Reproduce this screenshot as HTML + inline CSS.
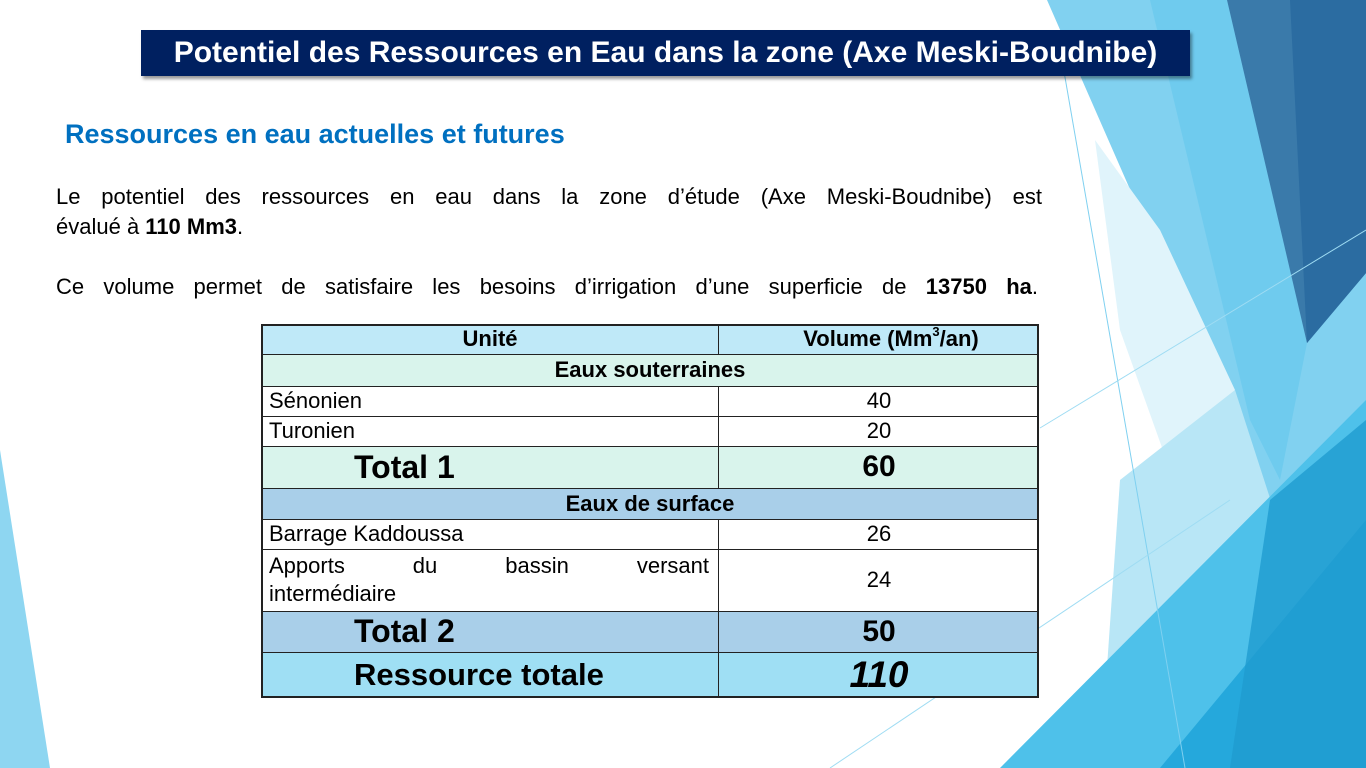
<!DOCTYPE html>
<html><head><meta charset="utf-8">
<style>
body{margin:0;width:1366px;height:768px;overflow:hidden;background:#fff;font-family:"Liberation Sans",sans-serif;position:relative}
.abs{position:absolute}
.c{position:absolute;box-sizing:border-box;display:flex;align-items:center;font-size:22px;color:#000;overflow:hidden;white-space:nowrap}
.line{position:absolute;background:#222}
.j{text-align:justify;text-align-last:justify;white-space:nowrap}
</style></head><body>
<svg class="abs" style="left:0;top:0" width="1366" height="768">
<polygon points="1047,0 1366,0 1366,768 1330,768 1310,600" fill="#81d1f0"/>
<polygon points="1150,0 1227,0 1307,343 1280,480 1250,420" fill="#6fcbee"/>
<polygon points="1095,140 1160,230 1235,390 1170,470 1120,330" fill="#e0f4fb"/>
<polygon points="1120,480 1235,390 1290,560 1180,768 1100,768" fill="#b8e6f6"/>
<polygon points="1227,0 1366,0 1366,273 1307,343" fill="#3a7aaa"/>
<polygon points="1290,0 1366,0 1366,273 1307,343" fill="#2b6ca1"/>
<polygon points="1000,768 1366,400 1366,768" fill="#4ec1ea"/>
<polygon points="1160,768 1366,520 1366,768" fill="#25a8dc"/>
<polygon points="1230,768 1270,500 1366,420 1366,768" fill="#1f9bd0" opacity="0.8"/>
<polygon points="0,450 50,768 0,768" fill="#8ed6f1"/>
<line x1="1062" y1="60" x2="1185" y2="768" stroke="#7fd0f0" stroke-width="1"/>
<line x1="1040" y1="428" x2="1366" y2="230" stroke="#9fdcf3" stroke-width="1"/>
<line x1="830" y1="768" x2="1230" y2="500" stroke="#9fdcf3" stroke-width="1"/>
</svg>
<div class="abs" style="left:141px;top:30px;width:1049px;height:46px;background:#002060;box-shadow:2px 3px 3px rgba(0,0,0,0.4);color:#fff;font-weight:bold;font-size:30px;display:flex;align-items:center;justify-content:center">Potentiel des Ressources en Eau dans la zone (Axe Meski-Boudnibe)</div>
<div class="abs" style="left:65px;top:119px;color:#0070c0;font-weight:bold;font-size:27px">Ressources en eau actuelles et futures</div>
<div class="abs j" style="left:56px;top:184px;width:986px;font-size:22px">Le potentiel des ressources en eau dans la zone d’étude (Axe Meski-Boudnibe) est</div>
<div class="abs" style="left:56px;top:214px;font-size:22px">évalué à <b>110 Mm3</b>.</div>
<div class="abs j" style="left:56px;top:274px;width:982px;font-size:22px">Ce volume permet de satisfaire les besoins d’irrigation d’une superficie de <b>13750 ha</b>.</div>

<div class="abs" style="left:261px;top:324px;width:778px;height:374px">
<div class="c" style="left:0;top:0;width:778px;height:30px;background:#bfe9f8"></div>
<div class="c" style="left:0;top:0;width:458px;height:30px;justify-content:center;font-weight:bold">Unité</div>
<div class="c" style="left:458px;top:0;width:320px;height:30px;justify-content:center;font-weight:bold;padding-left:24px">Volume (Mm<span style="font-size:13px;position:relative;top:-8px">3</span>/an)</div>
<div class="c" style="left:0;top:30px;width:778px;height:32px;background:#d9f4ec;justify-content:center;font-weight:bold">Eaux souterraines</div>
<div class="c" style="left:0;top:62px;width:458px;height:30px;padding-left:8px">Sénonien</div>
<div class="c" style="left:458px;top:62px;width:320px;height:30px;justify-content:center">40</div>
<div class="c" style="left:0;top:92px;width:458px;height:30px;padding-left:8px">Turonien</div>
<div class="c" style="left:458px;top:92px;width:320px;height:30px;justify-content:center">20</div>
<div class="c" style="left:0;top:122px;width:778px;height:42px;background:#d9f4ec"></div>
<div class="c" style="left:93px;top:122px;width:330px;height:42px;font-weight:bold;font-size:32px">Total 1</div>
<div class="c" style="left:458px;top:122px;width:320px;height:42px;justify-content:center;font-weight:bold;font-size:30px">60</div>
<div class="c" style="left:0;top:164px;width:778px;height:31px;background:#a9cfe9;justify-content:center;font-weight:bold">Eaux de surface</div>
<div class="c" style="left:0;top:195px;width:458px;height:30px;padding-left:8px">Barrage Kaddoussa</div>
<div class="c" style="left:458px;top:195px;width:320px;height:30px;justify-content:center">26</div>
<div class="abs" style="left:8px;top:228px;width:440px;font-size:22px;line-height:28px"><div class="j">Apports du bassin versant</div><div>intermédiaire</div></div>
<div class="c" style="left:458px;top:225px;width:320px;height:62px;justify-content:center">24</div>
<div class="c" style="left:0;top:287px;width:778px;height:41px;background:#a9cfe9"></div>
<div class="c" style="left:93px;top:287px;width:330px;height:41px;font-weight:bold;font-size:32px">Total 2</div>
<div class="c" style="left:458px;top:287px;width:320px;height:41px;justify-content:center;font-weight:bold;font-size:30px">50</div>
<div class="c" style="left:0;top:328px;width:778px;height:46px;background:#9fdff4"></div>
<div class="c" style="left:93px;top:328px;width:360px;height:46px;font-weight:bold;font-size:31px">Ressource totale</div>
<div class="c" style="left:458px;top:328px;width:320px;height:46px;justify-content:center;font-weight:bold;font-style:italic;font-size:37px">110</div>
<div class="line" style="left:0;top:0;width:778px;height:2px"></div>
<div class="line" style="left:0;top:30px;width:778px;height:1px"></div>
<div class="line" style="left:0;top:62px;width:778px;height:1px"></div>
<div class="line" style="left:0;top:92px;width:778px;height:1px"></div>
<div class="line" style="left:0;top:122px;width:778px;height:1px"></div>
<div class="line" style="left:0;top:164px;width:778px;height:1px"></div>
<div class="line" style="left:0;top:195px;width:778px;height:1px"></div>
<div class="line" style="left:0;top:225px;width:778px;height:1px"></div>
<div class="line" style="left:0;top:287px;width:778px;height:1px"></div>
<div class="line" style="left:0;top:328px;width:778px;height:1px"></div>
<div class="line" style="left:0;top:372px;width:778px;height:2px"></div>
<div class="line" style="left:0;top:0;width:2px;height:374px"></div>
<div class="line" style="left:776px;top:0;width:2px;height:374px"></div>
<div class="line" style="left:457px;top:0;width:1px;height:30px"></div>
<div class="line" style="left:457px;top:62px;width:1px;height:102px"></div>
<div class="line" style="left:457px;top:195px;width:1px;height:179px"></div>
</div>
</body></html>
